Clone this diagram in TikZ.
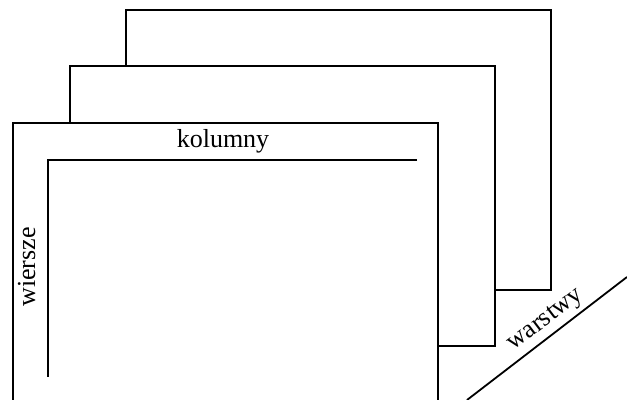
\documentclass[tikz,border=0pt]{standalone}
\usepackage{fontspec}
\setmainfont{Liberation Serif}
\usepackage{tikz}
\usetikzlibrary{positioning}
\tikzstyle{warstwa}=[rectangle,draw,fill=white,line width=0.9pt,minimum width=212.5pt,minimum height=140pt,inner sep=0pt,outer sep=0pt,anchor=north west]
\tikzstyle{os}=[draw,line width=0.9pt]
\tikzstyle{opis}=[font=\fontsize{13}{15}\selectfont,inner sep=0pt]

\begin{document}
\begin{tikzpicture}[x=0.5pt,y=-0.5pt]

  \useasboundingbox (0,0) rectangle (627,400);
  \clip (0,0) rectangle (627,400);

   % trzy warstwy, od tylnej do przedniej
   \foreach \x/\y/\name in {126/10/W3, 70/66/W2, 13/123/W1}
          \node[warstwa] (\name) at (\x,\y) {};

  \coordinate (rog) at (48,160);
  \coordinate (kol) at (417,160);
  \coordinate (wie) at (48,377);
  \coordinate (war1) at (467,400);
  \coordinate (war2) at (627,277);

  \path[os] (kol) -- (rog) -- (wie);
  \path[os] (war1) -- (war2);

  \node[opis,anchor=base] (kolumny) at (223,148) {kolumny};
  \node[opis,anchor=base,rotate=90] (wiersze) at (35,267) {wiersze};
  \node[opis,anchor=base,rotate=37.3] (warstwy) at (549,324) {warstwy};

\end{tikzpicture}
\end{document}
